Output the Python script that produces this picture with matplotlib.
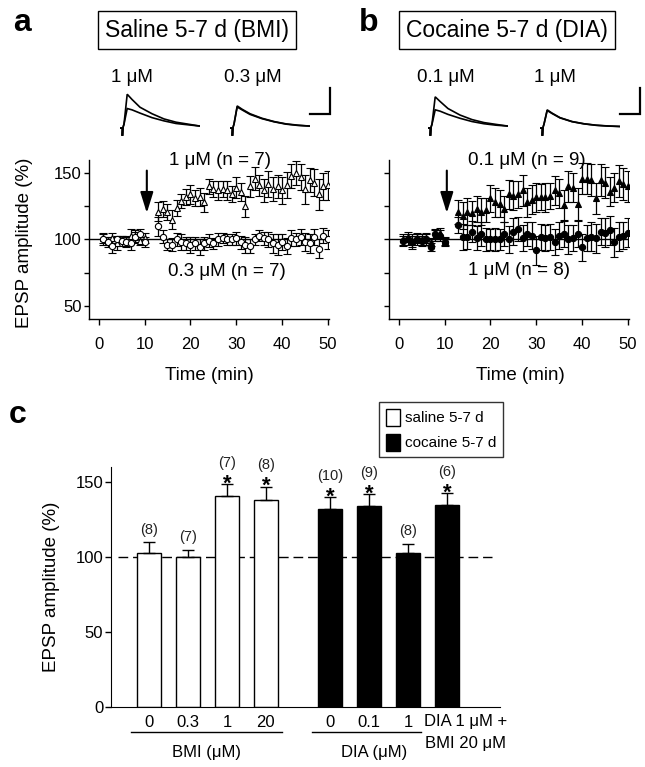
import matplotlib
matplotlib.use("Agg")
import matplotlib.pyplot as plt
from matplotlib import font_manager
from matplotlib.patches import Patch
import matplotlib.transforms as mtransforms

names = {f.name for f in font_manager.fontManager.ttflist}
BASE = 'Liberation Sans' if 'Liberation Sans' in names else 'DejaVu Sans'
NARROW = 'Liberation Sans Narrow' if 'Liberation Sans Narrow' in names else BASE
plt.rcParams['font.family'] = [BASE, 'DejaVu Sans']

# ---------------- data ----------------
minutes = [1, 2, 3, 4, 5, 6, 7, 8, 9, 10,
           13, 14, 15, 16, 17, 18, 19, 20, 21, 22, 23, 24, 25, 26, 27, 28, 29, 30,
           31, 32, 33, 34, 35, 36, 37, 38, 39, 40, 41, 42, 43, 44, 45, 46, 47, 48, 49, 50]

# panel a: saline, BMI
a_1uM_mean = [101, 99, 101, 97, 100, 99, 103, 102, 99, 101,
              121, 123, 121, 115, 124, 129, 132, 134, 131, 132, 128, 140, 138, 137, 138, 137, 134, 139,
              136, 125, 140, 146, 141, 137, 142, 138, 140, 137, 141, 148, 150, 147, 138, 145, 143, 134, 140, 141]
a_1uM_sem = [4, 3, 4, 5, 3, 4, 5, 4, 3, 4,
             7, 6, 6, 7, 6, 5, 6, 7, 6, 7, 7, 6, 6, 7, 6, 7, 6, 8,
             7, 8, 8, 9, 8, 9, 10, 9, 9, 10, 10, 9, 9, 10, 11, 9, 10, 12, 10, 11]
a_03_mean = [100, 98, 95, 100, 99, 98, 97, 102, 104, 98,
             110, 102, 96, 96, 100, 98, 97, 96, 97, 94, 97, 99, 97, 100, 101, 100, 100, 101,
             98, 96, 95, 100, 103, 101, 100, 97, 96, 98, 95, 101, 100, 102, 98, 97, 102, 93, 103, 100]
a_03_sem = [4, 4, 5, 3, 4, 4, 5, 5, 4, 4,
            7, 5, 4, 5, 5, 6, 5, 6, 5, 6, 5, 5, 4, 5, 4, 4, 4, 5,
            5, 6, 5, 4, 4, 5, 6, 7, 8, 6, 6, 6, 5, 6, 7, 7, 6, 7, 6, 7]

# panel b: cocaine, DIA
b_01_mean = [100, 102, 99, 101, 100, 101, 98, 103, 105, 99,
             121, 118, 121, 120, 123, 121, 122, 131, 128, 127, 123, 134, 133, 134, 137, 128, 130, 132,
             132, 132, 133, 137, 135, 126, 140, 139, 127, 146, 146, 145, 131, 145, 143, 136, 139, 144, 142, 140]
b_01_sem = [4, 4, 5, 4, 4, 4, 3, 4, 4, 3,
            9, 10, 10, 9, 10, 10, 9, 10, 11, 10, 10, 11, 11, 10, 12, 11, 11, 11,
            10, 11, 10, 11, 11, 11, 12, 11, 12, 12, 12, 12, 12, 12, 12, 11, 11, 12, 12, 12]
b_1_mean = [99, 100, 98, 100, 99, 100, 94, 104, 103, 98,
            111, 102, 102, 106, 101, 104, 100, 100, 100, 100, 104, 100, 106, 108, 101, 104, 103, 92,
            102, 101, 102, 98, 103, 104, 100, 101, 104, 94, 101, 102, 101, 106, 105, 107, 98, 102, 103, 105]
b_1_sem = [4, 4, 5, 4, 4, 4, 3, 4, 4, 3,
           6, 10, 9, 8, 9, 9, 9, 8, 9, 8, 9, 10, 10, 9, 10, 9, 10, 11,
           10, 10, 10, 10, 10, 10, 11, 10, 10, 10, 10, 11, 11, 10, 11, 11, 11, 11, 10, 11]

# example EPSP traces (ms, mV)
trace_t = [0, 3, 3, 3.5, 5, 9, 15, 25, 40, 55, 70, 85, 100]
a_1uM_drug = [0, 0, -0.6, 0, 0.3, 2.6, 2.2, 1.6, 1.1, 0.7, 0.45, 0.3, 0.15]
a_1uM_ctrl = [0, 0, -0.6, 0, 0.3, 1.5, 1.4, 1.15, 0.8, 0.55, 0.35, 0.25, 0.15]
a_03_drug = [0, 0, -0.6, 0, 0.3, 1.7, 1.45, 1.1, 0.75, 0.5, 0.32, 0.22, 0.15]
a_03_ctrl = [0, 0, -0.6, 0, 0.3, 1.62, 1.4, 1.05, 0.72, 0.48, 0.3, 0.2, 0.15]
b_01_drug = [0, 0, -0.6, 0, 0.3, 2.4, 2.05, 1.5, 1.0, 0.65, 0.42, 0.28, 0.15]
b_01_ctrl = [0, 0, -0.6, 0, 0.3, 1.4, 1.3, 1.05, 0.75, 0.5, 0.33, 0.22, 0.15]
b_1_drug = [0, 0, -0.6, 0, 0.3, 1.4, 1.15, 0.8, 0.5, 0.33, 0.22, 0.16, 0.12]
b_1_ctrl = [0, 0, -0.6, 0, 0.3, 1.35, 1.12, 0.78, 0.49, 0.32, 0.21, 0.15, 0.12]
scale_ms = 25
scale_mv = 2

# panel c: summary bars
bar_ticklabels = ["0", "0.3", "1", "20", "0", "0.1", "1"]
bar_last_label = "DIA 1 \u03bcM +\nBMI 20 \u03bcM"
bar_group = ["saline", "saline", "saline", "saline", "cocaine", "cocaine", "cocaine", "cocaine"]
bar_mean = [103, 100, 141, 138, 132, 134, 103, 135]
bar_sem = [7, 5, 7.5, 9, 8, 8, 6, 7.5]
bar_n = [8, 7, 7, 8, 10, 9, 8, 6]
bar_sig = [False, False, True, True, True, True, False, True]
bar_pos = [0, 1, 2, 3, 4.64, 5.64, 6.64, 7.64]

# ---------------- figure ----------------
W, H = 645, 767
fig = plt.figure(figsize=(W / 100, H / 100), dpi=100)


def px_axes(x0, y0, x1, y1):
    return fig.add_axes([x0 / W, 1 - y1 / H, (x1 - x0) / W, (y1 - y0) / H])


def fx(x):
    return x / W


def fy(y):
    return 1 - y / H


TICK = 12
LAB = 13.5

# --- time course panels ---
axA = px_axes(89, 160, 329, 319)
axB = px_axes(389, 160, 629, 319)

for ax, s1, e1, s2, e2, filled, show_ylab in [
        (axA, a_1uM_mean, a_1uM_sem, a_03_mean, a_03_sem, False, True),
        (axB, b_01_mean, b_01_sem, b_1_mean, b_1_sem, True, False)]:
    ax.axhline(100, color='black', lw=1.0, zorder=1)
    fc = 'black' if filled else 'white'
    ax.errorbar(minutes, s1, yerr=e1, fmt='^', ms=4.5, mfc=fc, mec='black', mew=0.8,
                ecolor='black', elinewidth=0.9, capsize=3, capthick=0.9, zorder=3)
    ax.errorbar(minutes, s2, yerr=e2, fmt='o', ms=4.5, mfc=fc, mec='black', mew=0.8,
                ecolor='black', elinewidth=0.9, capsize=3, capthick=0.9, zorder=3)
    ax.set_xlim(-2.1, 50.2)
    ax.set_ylim(40, 160)
    for sp in ('top', 'right'):
        ax.spines[sp].set_visible(False)
    for sp in ('left', 'bottom'):
        ax.spines[sp].set_linewidth(1.0)
    ax.set_xticks([0, 10, 20, 30, 40, 50])
    ax.set_xticklabels(['0', '10', '20', '30', '40', '50'], fontsize=TICK)
    ax.set_yticks([50, 75, 100, 125, 150])
    if show_ylab:
        ax.set_yticklabels(['50', '', '100', '', '150'], fontsize=TICK)
    else:
        ax.set_yticklabels([])
    ax.tick_params(axis='x', direction='out', length=4, width=1, pad=9)
    ax.tick_params(axis='y', direction='out', length=3.3, width=1, pad=2)
    ax.annotate('', xy=(10.5, 120), xytext=(10.5, 152),
                arrowprops=dict(arrowstyle='-|>,head_length=0.9,head_width=0.28',
                                color='black', lw=1.5, mutation_scale=14,
                                shrinkA=0, shrinkB=0))

axA.text(26.5, 159.5, '1 \u03bcM (n = 7)', ha='center', va='center', fontsize=LAB)
axA.text(28.0, 76.0, '0.3 \u03bcM (n = 7)', ha='center', va='center', fontsize=LAB)
axB.text(27.9, 159.5, '0.1 \u03bcM (n = 9)', ha='center', va='center', fontsize=LAB)
axB.text(26.2, 76.5, '1 \u03bcM (n = 8)', ha='center', va='center', fontsize=LAB)

fig.text(fx(25), fy(243), 'EPSP amplitude (%)', rotation=90, ha='center', va='center', fontsize=LAB)
fig.text(fx(209), fy(375), 'Time (min)', ha='center', va='center', fontsize=LAB)
fig.text(fx(520), fy(375), 'Time (min)', ha='center', va='center', fontsize=LAB)

# --- example traces ---
trace_specs = [
    ((120, 88, 200, 140), a_1uM_drug, a_1uM_ctrl, False),
    ((230, 88, 310, 140), a_03_drug, a_03_ctrl, True),
    ((428, 88, 508, 140), b_01_drug, b_01_ctrl, False),
    ((540, 88, 620, 140), b_1_drug, b_1_ctrl, True),
]
for (x0, y0, x1, y1), drug, ctrl, bar in trace_specs:
    tax = px_axes(x0, y0, x1, y1)
    tax.plot(trace_t, ctrl, color='black', lw=1.2, solid_joinstyle='miter')
    tax.plot(trace_t, drug, color='black', lw=1.2, solid_joinstyle='miter')
    tax.set_xlim(0, 100)
    tax.set_ylim(-0.92, 3.08)
    tax.axis('off')
    if bar:
        tax.plot([100, 100 + scale_ms, 100 + scale_ms], [1.08, 1.08, 1.08 + scale_mv],
                 color='black', lw=1.6, clip_on=False, solid_joinstyle='miter')

for x, txt in [(132, '1 \u03bcM'), (253, '0.3 \u03bcM'), (446, '0.1 \u03bcM'), (555, '1 \u03bcM')]:
    fig.text(fx(x), fy(77), txt, ha='center', va='center', fontsize=LAB)

# titles + panel letters
fig.text(fx(197), fy(30), 'Saline 5-7 d (BMI)', ha='center', va='center', fontsize=16.5,
         bbox=dict(boxstyle='square,pad=0.32', fc='white', ec='black', lw=1))
fig.text(fx(507), fy(30), 'Cocaine 5-7 d (DIA)', ha='center', va='center', fontsize=16.5,
         bbox=dict(boxstyle='square,pad=0.32', fc='white', ec='black', lw=1))
fig.text(fx(22), fy(23), 'a', ha='center', va='center', fontsize=23, fontweight='bold')
fig.text(fx(369), fy(23), 'b', ha='center', va='center', fontsize=23, fontweight='bold')
fig.text(fx(18), fy(415), 'c', ha='center', va='center', fontsize=23, fontweight='bold')

# --- bar chart ---
axC = px_axes(111, 467, 500, 707)
axC.axhline(100, xmin=0.018, xmax=0.979, color='black', lw=1.0, dashes=(7, 3.5), zorder=1)
colors = ['white' if g == 'saline' else 'black' for g in bar_group]
axC.bar(bar_pos, bar_mean, width=0.62, color=colors, edgecolor='black', lw=1.0, zorder=2)
axC.errorbar(bar_pos, bar_mean, yerr=[[0] * len(bar_sem), bar_sem], fmt='none', ecolor='black',
             elinewidth=1.0, capsize=4.5, capthick=1.0, zorder=3)
for x, m, e, n, sig in zip(bar_pos, bar_mean, bar_sem, bar_n, bar_sig):
    top = m + e
    if sig:
        axC.text(x, top - 3.5, '*', ha='center', va='baseline', fontsize=16, fontweight='bold',
                 clip_on=False)
        axC.text(x, top + 14, f'({n})', ha='center', va='center', fontsize=10.5, color='#222222',
                 family=NARROW, clip_on=False)
    else:
        axC.text(x, top + 8, f'({n})', ha='center', va='center', fontsize=10.5, color='#222222',
                 family=NARROW, clip_on=False)

axC.set_xlim(-0.97, 9.0)
axC.set_ylim(0, 160)
for sp in ('top', 'right'):
    axC.spines[sp].set_visible(False)
axC.set_yticks([0, 50, 100, 150])
axC.set_yticklabels(['0', '50', '100', '150'], fontsize=TICK)
axC.tick_params(axis='y', direction='out', length=4, width=1, pad=1.5)
axC.set_xticks(bar_pos[:7])
axC.set_xticklabels(bar_ticklabels, fontsize=TICK)
axC.tick_params(axis='x', length=0, pad=6)

tr = mtransforms.blended_transform_factory(axC.transData, axC.transAxes)
axC.text(bar_pos[7] + 0.47, -0.03, bar_last_label, transform=tr, ha='center', va='top',
         fontsize=TICK, linespacing=1.55)
groups = [("BMI (\u03bcM)", 0, 3, 0.45, 0.41, 0.0), ("DIA (\u03bcM)", 4, 6, 0.46, 0.33, 0.2)]
for lab, i0, i1, lpad, rpad, loff in groups:
    xa, xb = bar_pos[i0] - lpad, bar_pos[i1] + rpad
    axC.plot([xa, xb], [-0.104, -0.104], transform=tr, color='black', lw=1.0, clip_on=False)
    axC.text((xa + xb) / 2 + loff, -0.1875, lab, transform=tr, ha='center', va='center',
             fontsize=TICK)

fig.text(fx(52), fy(587), 'EPSP amplitude (%)', rotation=90, ha='center', va='center', fontsize=LAB)

handles = [Patch(facecolor='white', edgecolor='black', lw=1, label='saline 5-7 d'),
           Patch(facecolor='black', edgecolor='black', lw=1, label='cocaine 5-7 d')]
leg = fig.legend(handles=handles, loc='upper right', bbox_to_anchor=(fx(503), fy(402)),
                 fontsize=11, frameon=True, fancybox=False, handlelength=0.95, handleheight=1.3,
                 handletextpad=0.3, borderpad=0.45, labelspacing=0.55, borderaxespad=0)
leg.get_frame().set_edgecolor('black')
leg.get_frame().set_linewidth(1.0)

fig.savefig('out.png', dpi=100, facecolor='white')
